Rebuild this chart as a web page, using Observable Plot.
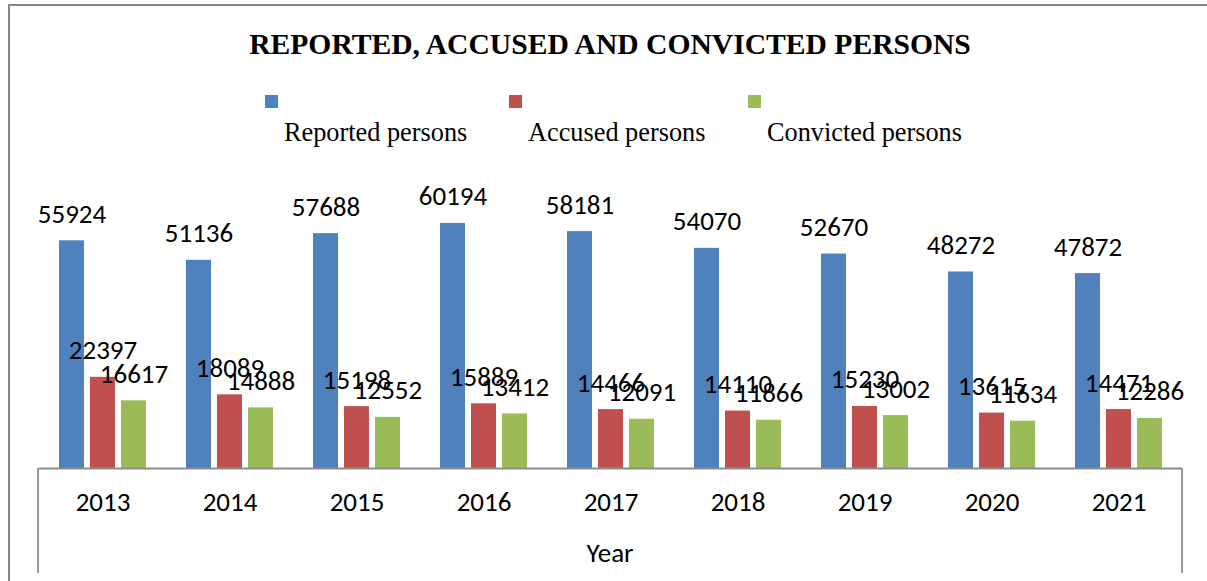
<!DOCTYPE html>
<html><head><meta charset="utf-8">
<script src="https://cdn.jsdelivr.net/npm/d3@7"></script>
<script src="https://cdn.jsdelivr.net/npm/@observablehq/plot@0.6"></script>
<style>body{margin:0;background:#fff} #chart{position:relative;width:1207px;height:581px;overflow:hidden}</style>
</head><body><div id="chart"></div>
<script>
const years = ["2013","2014","2015","2016","2017","2018","2019","2020","2021"];
const seriesNames = ["Reported persons","Accused persons","Convicted persons"];
const reported = [55924,51136,57688,60194,58181,54070,52670,48272,47872];
const accused = [22397,18089,15198,15889,14466,14110,15230,13615,14471];
const convicted = [16617,14888,12552,13412,12091,11866,13002,11634,12286];
const colors = ["#4F81BD","#C0504D","#9BBB59"];
const titleText = "REPORTED, ACCUSED AND CONVICTED PERSONS";
const axisTitle = "Year";

const data = years.flatMap((yr, i) => [reported, accused, convicted].map((arr, j) => ({year: yr, series: seriesNames[j], value: arr[i]})));

const numFont = "Carlito, Calibri, 'Liberation Sans', Arial, sans-serif";
const serifFont = "'Liberation Serif', 'Times New Roman', serif";

const plot = Plot.plot({
  width: 1207, height: 581,
  marginLeft: 38, marginRight: 25, marginTop: 183, marginBottom: 113,
  style: {fontFamily: numFont, background: "transparent", color: "black"},
  fx: {domain: years, padding: 0, label: null},
  x: {domain: seriesNames, paddingInner: 0.19, paddingOuter: 0.61, axis: null},
  y: {domain: [0, 70000], axis: null},
  color: {domain: seriesNames, range: colors},
  marks: [
    Plot.barY(data, {fx: "year", x: "series", y: "value", fill: "series"}),
    Plot.ruleY([0], {stroke: "#8c8c8c", strokeWidth: 2}),
    Plot.text(data, {fx: "year", x: "series", y: "value", text: d => String(d.value), lineAnchor: "bottom", dy: -18, fontSize: 27, fill: "black"}),
    Plot.axisFx({anchor: "bottom", tickSize: 0, tickPadding: 23, fontSize: 27, label: null})
  ]
});

document.getElementById("chart").appendChild(plot);
const svg = d3.select(plot);

// chart border (top and left)
svg.append("path").attr("d", "M9,581V5H1207").attr("fill", "none").attr("stroke", "#868686").attr("stroke-width", 2);
// axis side lines
svg.append("line").attr("x1", 38).attr("x2", 38).attr("y1", 468).attr("y2", 573).attr("stroke", "#9a9a9a").attr("stroke-width", 2);
svg.append("line").attr("x1", 1182).attr("x2", 1182).attr("y1", 468).attr("y2", 573).attr("stroke", "#9a9a9a").attr("stroke-width", 2);

// title
svg.append("text").attr("x", 610).attr("y", 54).attr("text-anchor", "middle")
  .style("font-family", serifFont).style("font-weight", "bold").style("font-size", "29.6px").attr("fill", "black").text(titleText);

// legend
const legX = [265, 509, 748];
seriesNames.forEach((name, i) => {
  svg.append("rect").attr("x", legX[i]).attr("y", 95).attr("width", 13).attr("height", 13).attr("fill", colors[i]);
  svg.append("text").attr("x", legX[i] + 19).attr("y", 141).attr("text-anchor", "start")
    .style("font-family", serifFont).style("font-size", "26.3px").attr("fill", "black").text(name);
});

// axis title
svg.append("text").attr("x", 610).attr("y", 562).attr("text-anchor", "middle")
  .style("font-family", numFont).style("font-size", "27px").attr("fill", "black").text(axisTitle);
</script>
</body></html>
